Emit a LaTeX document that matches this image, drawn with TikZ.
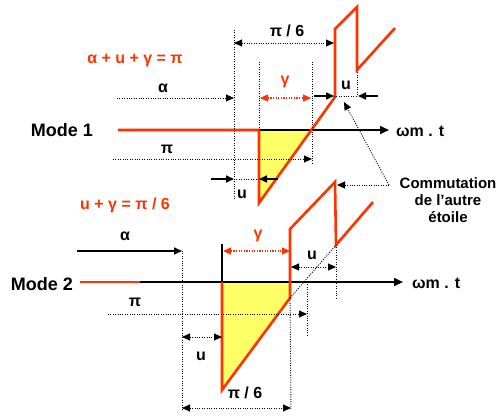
\documentclass[tikz,border=0pt]{standalone}
\usepackage{fontspec}
\setmainfont{Liberation Sans}
\usetikzlibrary{arrows.meta}
\definecolor{wred}{RGB}{255,51,0}
\definecolor{wyel}{RGB}{255,255,102}
\begin{document}
\begin{tikzpicture}[x=1pt,y=-1pt,
  wave/.style={wred,line width=2.6pt,line join=miter},
  axisline/.style={black,line width=2.2pt,-{Triangle[length=9pt,width=8pt]}},
  dotl/.style={black,line width=0.9pt,dash pattern=on 1pt off 1.4pt},
  rdotl/.style={wred,line width=1.2pt,dash pattern=on 1.2pt off 1.4pt},
  tip/.style={-{Triangle[length=8pt,width=7pt]}},
  tips/.style={{Triangle[length=8pt,width=7pt]}-{Triangle[length=8pt,width=7pt]}},
  solidar/.style={black,line width=1.6pt,-{Triangle[length=8pt,width=7pt]}},
  lab/.style={font=\bfseries\fontsize{16}{18}\selectfont,inner sep=0pt},
  rlab/.style={lab,text=wred},
  modelab/.style={font=\bfseries\fontsize{18}{20}\selectfont,inner sep=0pt},
  comlab/.style={font=\bfseries\fontsize{15}{17}\selectfont,inner sep=0pt,align=center}
]
\useasboundingbox (0,0) rectangle (499,418);

% ---------------- Mode 1 ----------------
\coordinate (a0) at (118,130);
\coordinate (a1) at (259,130);
\coordinate (a2) at (259,203);
\coordinate (ac) at (311,130);
\coordinate (a3) at (335,97);
\coordinate (a4) at (335,29);
\coordinate (a5) at (357,7);
\coordinate (a6) at (357,70);
\coordinate (a7) at (395,28);
\coordinate (ax1) at (389,130);

\fill[wyel] (a1) -- (a2) -- (ac) -- cycle;
\draw[axisline] (a1) -- (ax1);
\draw[wave] (a0) -- (a1) -- (a2) -- (a3) -- (a4) -- (a5) -- (a6) -- (a7);

\node[modelab] (mode1) at (62,130) {Mode 1};
\node[lab,anchor=west] (wt1) at (396,131) {ωm . t};
\node[rlab] (eq1) at (135,60) {α + u + γ = π};

% vertical guides
\coordinate (v1t) at (234,30);  \coordinate (v1b) at (234,200);
\coordinate (v2t) at (259,62);
\coordinate (v3t) at (312,62);  \coordinate (v3b) at (312,163);
\coordinate (v4b) at (357,96);
\draw[dotl] (v1t) -- (v1b);
\draw[dotl] (v2t) -- (a1);
\draw[dotl] (v3t) -- (v3b);
\draw[dotl] (a6) -- (v4b);

% pi/6 top
\coordinate (p6l) at (234,43); \coordinate (p6r) at (334,43);
\draw[dotl,tips] (p6l) -- (p6r);
\node[lab] (p6lab) at (287,31) {π / 6};
% alpha
\coordinate (al0) at (117,98); \coordinate (al1) at (234,98);
\draw[dotl,tip] (al0) -- (al1);
\node[lab] (allab) at (163,88) {α};
% gamma
\coordinate (g0) at (260,98); \coordinate (g1) at (311,98);
\draw[rdotl,tips] (g0) -- (g1);
\node[rlab] (glab) at (285,82) {γ};
% u top
\coordinate (ut0) at (314,96); \coordinate (ut1) at (334,96);
\coordinate (ut2) at (357,96); \coordinate (ut3) at (378,96); \coordinate (ut4) at (358,96);
\draw[solidar] (ut0) -- (ut1);
\draw[dotl] (ut1) -- (ut2);
\draw[solidar] (ut3) -- (ut4);
\node[lab] (utlab) at (346,85) {u};
% pi
\coordinate (pi0) at (113,159); \coordinate (pi1) at (312,159);
\draw[dotl,tip] (pi0) -- (pi1);
\node[lab] (pilab) at (167,149) {π};
% u bottom
\coordinate (ub0) at (211,179); \coordinate (ub1) at (234,179);
\coordinate (ub2) at (278,179); \coordinate (ub3) at (259,179);
\draw[solidar] (ub0) -- (ub1);
\draw[dotl] (ub1) -- (ub3);
\draw[solidar] (ub2) -- (ub3);
\node[lab] (ublab) at (242,194) {u};

% ---------------- Mode 2 ----------------
\node[rlab] (eq2) at (125,205) {u + γ = π / 6};

\coordinate (b0) at (80,282);
\coordinate (bk) at (140,282);
\coordinate (b1) at (222,282);
\coordinate (b2) at (222,390);
\coordinate (b3) at (290,298);
\coordinate (b3a) at (290,282);
\coordinate (b4) at (290,229);
\coordinate (b5) at (335,182);
\coordinate (b6) at (336,245);
\coordinate (b7) at (373,202);
\coordinate (ax2) at (403,282);

\fill[wyel] (b1) -- (b2) -- (b3) -- (b3a) -- cycle;
\draw[wave] (b0) -- (b1);
\draw[black,line width=1.6pt] (bk) -- (b1);
\draw[axisline] (b1) -- (ax2);
\coordinate (gv) at (222,244);
\draw[black,line width=1.6pt] (gv) -- (b1);
\draw[wave] (b1) -- (b2) -- (b3) -- (b4) -- (b5) -- (b6) -- (b7);
\draw[dotl] (b3) -- (b6);

\node[modelab] (mode2) at (42,284) {Mode 2};
\node[lab,anchor=west] (wt2) at (412,283) {ωm . t};

% vertical guides
\coordinate (w1t) at (182,251); \coordinate (w1b) at (182,410);
\coordinate (w2b) at (291,410);
\coordinate (w3t) at (307,282); \coordinate (w3b) at (307,337);
\coordinate (w4b) at (336,298);
\draw[dotl] (w1t) -- (w1b);
\draw[dotl] (b3) -- (w2b);
\draw[dotl] (w3t) -- (w3b);
\draw[dotl] (b6) -- (w4b);

% alpha
\coordinate (bl0) at (77,251);
\draw[solidar] (bl0) -- (w1t);
\node[lab] (al2lab) at (125,236) {α};
% gamma
\coordinate (h0) at (223,251); \coordinate (h1) at (290,251);
\draw[rdotl,tips] (h0) -- (h1);
\node[rlab] (g2lab) at (258,236) {γ};
% pi
\coordinate (q0) at (108,314); \coordinate (q1) at (307,314);
\draw[dotl,tip] (q0) -- (q1);
\node[lab] (pi2lab) at (135,302) {π};
% u left
\coordinate (ul0) at (182,337); \coordinate (ul1) at (222,337);
\draw[dotl,tips] (ul0) -- (ul1);
\node[lab] (ul2lab) at (201,356) {u};
% u right
\coordinate (ur0) at (291,267); \coordinate (ur1) at (336,267);
\draw[dotl,tips] (ur0) -- (ur1);
\node[lab] (ur2lab) at (312,255) {u};
% pi/6 bottom
\coordinate (r0) at (182,408); \coordinate (r1) at (291,408);
\draw[dotl,tips] (r0) -- (r1);
\node[lab] (p62lab) at (245,393) {π / 6};

% ---------------- Commutation ----------------
\node[comlab] (com) at (448,200) {Commutation\\de l’autre\\étoile};
\coordinate (cj) at (389,185);
\coordinate (ct1) at (344,102);
\coordinate (ct2) at (337,185);
\draw[dotl,tip] (cj) -- (ct1);
\draw[dotl,tip] (cj) -- (ct2);
\end{tikzpicture}
\end{document}
